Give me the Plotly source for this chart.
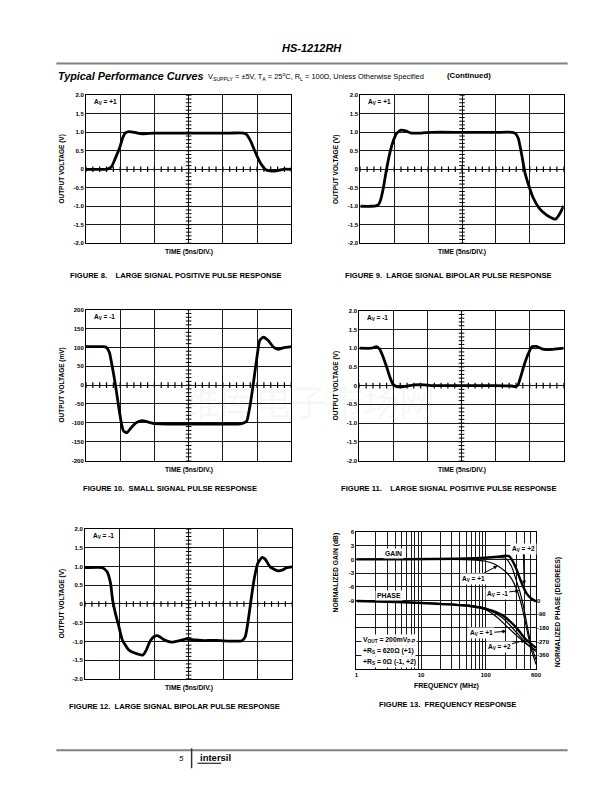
import plotly.graph_objects as go
import numpy as np

W, H = 612, 792
def X(px): return px / W
def Y(py): return 1 - py / H

# ---------------- data ----------------
volt_ticks = [2.0, 1.5, 1.0, 0.5, 0.0, -0.5, -1.0, -1.5, -2.0]
volt_labels = ["2.0", "1.5", "1.0", "0.5", "0", "-0.5", "-1.0", "-1.5", "-2.0"]
mv_ticks = [200, 150, 100, 50, 0, -50, -100, -150, -200]
mv_labels = ["200", "150", "100", "50", "0", "-50", "-100", "-150", "-200"]
time_divs = [0, 5, 10, 15, 20, 25, 30]

fig8_t = [0, 2.5, 3.0, 3.7, 4.4, 4.9, 5.4, 5.8, 6.3, 7.3, 8.2, 9.2, 11, 16, 21, 23.0, 23.4, 24.1, 24.7, 25.5, 26.2, 26.9, 27.8, 28.8, 30]
fig8_v = [0, 0, 0.0, 0.06, 0.35, 0.57, 0.87, 0.99, 1.02, 0.99, 0.96, 0.97, 0.98, 0.98, 0.98, 0.98, 0.95, 0.75, 0.48, 0.17, 0.0, -0.045, -0.04, 0.0, 0.0]

fig9_t = [0, 1.6, 2.3, 2.7, 3.0, 3.4, 3.9, 4.4, 4.9, 5.35, 6.0, 6.8, 7.5, 9.0, 10.5, 15, 20, 22.4, 22.85, 23.3, 23.8, 24.3, 24.8, 25.5, 26.5, 27.5, 28.4, 28.8, 29.4, 30]
fig9_v = [-1.0, -1.0, -0.99, -0.95, -0.82, -0.5, 0.04, 0.48, 0.79, 0.97, 1.06, 1.03, 0.98, 0.98, 1.0, 1.0, 1.0, 1.0, 0.97, 0.84, 0.4, -0.1, -0.41, -0.77, -1.08, -1.24, -1.33, -1.35, -1.21, -0.99]

fig10_t = [0, 2.5, 2.9, 3.4, 3.8, 4.3, 4.8, 5.2, 5.5, 6.0, 6.6, 7.3, 8.2, 9.1, 10.1, 12, 18, 22.6, 23.1, 23.5, 24.0, 24.5, 24.96, 25.4, 25.9, 26.6, 27.4, 28.1, 28.8, 30]
fig10_v = [102, 102, 101, 88, 53, 1, -60, -104, -122, -126, -113, -100, -94, -98, -102, -103, -103, -103, -100, -95, -52, 10, 71, 119, 127, 119, 101, 95, 99, 102]

fig11_t = [0, 1.8, 2.5, 3.0, 3.5, 4.0, 4.46, 4.94, 5.4, 6.2, 7.1, 8.1, 9.5, 10.5, 15, 20, 22.4, 22.9, 23.3, 23.7, 24.2, 24.8, 25.3, 26.0, 26.8, 27.5, 28.4, 30]
fig11_v = [1.0, 1.0, 1.04, 0.97, 0.76, 0.5, 0.24, 0.04, -0.02, -0.035, -0.01, 0.02, 0.02, 0.0, 0.0, 0.0, -0.01, -0.03, 0.02, 0.24, 0.55, 0.85, 1.03, 1.05, 0.98, 0.96, 0.97, 1.0]

fig12_t = [0, 2.5, 3.2, 3.7, 4.0, 4.4, 4.9, 5.4, 6.3, 7.2, 8.4, 8.9, 9.4, 10.0, 10.6, 11.3, 12.5, 13.7, 14.6, 15.8, 17.3, 18.2, 19.6, 22.7, 23.2, 23.7, 24.1, 24.5, 25.0, 25.6, 26.1, 26.8, 27.8, 28.5, 29.2, 30]
fig12_v = [0.97, 0.97, 0.86, 0.55, 0.1, -0.25, -0.6, -0.96, -1.22, -1.31, -1.36, -1.22, -1.0, -0.87, -0.85, -0.94, -1.02, -0.98, -0.94, -0.96, -0.98, -0.97, -0.98, -0.98, -0.87, -0.34, 0.2, 0.68, 1.08, 1.24, 1.19, 0.99, 0.89, 0.9, 0.97, 0.99]

# Figure 13: frequency response
gain_p1_f = [1, 30, 60, 100, 130, 152, 200, 250, 300, 350, 400, 450, 500, 600]
gain_p1_db = [0, 0, -0.1, -0.4, -0.9, -1.4, -2.6, -4.2, -6.5, -9.5, -13, -16.5, -19.5, -23]
gain_m1_f = [1, 50, 100, 150, 200, 250, 300, 335, 380, 430, 500, 600]
gain_m1_db = [0, 0.1, 0.3, 0.4, 0.3, -1.5, -4.8, -6.9, -10, -14, -18.5, -22]
gain_p2_f = [1, 50, 100, 150, 200, 230, 260, 300, 340, 380, 430, 500, 600]
gain_p2_db = [0, 0.2, 0.4, 0.6, 0.8, 0.7, -0.3, -2.2, -4.3, -6.0, -7.5, -8.5, -9.2]

phase_p1_f = [1, 3, 10, 30, 60, 100, 150, 200, 267, 350, 450, 600]
phase_p1_deg = [-3, -8, -15, -25, -35, -60, -110, -160, -210, -255, -295, -335]
phase_m1_f = [1, 3, 10, 30, 60, 100, 150, 200, 300, 400, 500, 600]
phase_m1_deg = [-3, -8, -15, -24, -33, -50, -90, -130, -210, -270, -305, -325]
phase_p2_f = [1, 3, 10, 30, 60, 100, 150, 200, 300, 405, 500, 600]
phase_p2_deg = [-3, -8, -16, -27, -38, -55, -80, -110, -180, -250, -285, -310]

gain_ticks = [6, 3, 0, -3, -6, -9, -12, -15, -18, -21, -24]
gain_labels = ["6", "3", "0", "-3", "-6", "-9", "", "", "", "", ""]
phase_ticks = [0, -90, -180, -270, -360]
phase_labels = ["0", "-90", "-180", "-270", "-360"]
freq_ticks = [1, 2, 3, 4, 5, 6, 7, 8, 9, 10, 20, 30, 40, 50, 60, 70, 80, 90, 100, 200, 300, 400, 500, 600]
freq_labels = ["1", "", "", "", "", "", "", "", "", "10", "", "", "", "", "", "", "", "", "100", "", "", "", "", "600"]

# ---------------- figure ----------------
FONT = "Liberation Sans, Arial, sans-serif"
fig = go.Figure()
layout = dict(width=W, height=H, margin=dict(l=0, r=0, t=0, b=0),
              paper_bgcolor="white", plot_bgcolor="white", showlegend=False)
annotations = []
shapes = []
NB = "\u00a0"

def ann(x, y, text, size=7, xanchor="center", yanchor="middle", angle=0, color="black", **kw):
    d = dict(x=X(x), y=Y(y), xref="paper", yref="paper", text=text, showarrow=False,
             xanchor=xanchor, yanchor=yanchor, textangle=angle,
             font=dict(family=FONT, size=size, color=color))
    d.update(kw)
    annotations.append(d)

panels = [
    dict(t=fig8_t, v=fig8_v, box=(77, 285, 85, 234), mv=False, gainlbl="A<sub>V</sub> = +1",
         cap="FIGURE 8." + NB * 4 + "LARGE SIGNAL POSITIVE PULSE RESPONSE", capxy=(168, 267), ylab_x=53),
    dict(t=fig9_t, v=fig9_v, box=(355, 561, 85, 234), mv=False, gainlbl="A<sub>V</sub> = +1",
         cap="FIGURE 9." + NB * 2 + "LARGE SIGNAL BIPOLAR PULSE RESPONSE", capxy=(444, 267), ylab_x=331),
    dict(t=fig10_t, v=fig10_v, box=(77, 285, 301, 453), mv=True, gainlbl="A<sub>V</sub> = -1",
         cap="FIGURE 10." + NB * 2 + "SMALL SIGNAL PULSE RESPONSE", capxy=(162, 481), ylab_x=53),
    dict(t=fig11_t, v=fig11_v, box=(354, 561, 302, 453), mv=False, gainlbl="A<sub>V</sub> = -1",
         cap="FIGURE 11." + NB * 4 + "LARGE SIGNAL POSITIVE PULSE RESPONSE", capxy=(444, 481), ylab_x=330),
    dict(t=fig12_t, v=fig12_v, box=(76, 286, 522, 673), mv=False, gainlbl="A<sub>V</sub> = -1",
         cap="FIGURE 12." + NB * 2 + "LARGE SIGNAL BIPOLAR PULSE RESPONSE", capxy=(167, 701), ylab_x=53),
]

GRID = "#1a1a1a"
tickfont = dict(family=FONT, size=6, color="black", weight="bold")

for i, p in enumerate(panels, start=1):
    sfx = "" if i == 1 else str(i)
    l, r, tp, bt = p["box"]
    yt = mv_ticks if p["mv"] else volt_ticks
    yl = mv_labels if p["mv"] else volt_labels
    yr = [-200, 200] if p["mv"] else [-2, 2]
    layout["xaxis" + sfx] = dict(domain=[X(l), X(r)], anchor="y" + sfx, range=[0, 30],
                                 tickvals=time_divs, showticklabels=False, ticks="",
                                 showgrid=True, gridcolor=GRID, gridwidth=1.2, zeroline=False,
                                 showline=True, mirror=True, linecolor="black", linewidth=1)
    layout["yaxis" + sfx] = dict(domain=[Y(bt), Y(tp)], anchor="x" + sfx, range=yr,
                                 tickvals=yt, ticktext=yl, ticks="", tickfont=tickfont,
                                 showgrid=True, gridcolor=GRID, gridwidth=1.2, zeroline=False,
                                 showline=True, mirror=True, linecolor="black", linewidth=1)
    xa, ya = "x" + sfx, "y" + sfx
    # minor tick marks along zero line and centre line (5 per division)
    tx = list(np.arange(0, 30.01, 1.0))
    fig.add_trace(go.Scatter(x=tx, y=[0] * len(tx), xaxis=xa, yaxis=ya, mode="markers",
                             marker=dict(symbol="line-ns-open", size=4, color="black",
                                         line=dict(width=1.2, color="black")),
                             hoverinfo="skip"))
    ty = list(np.arange(yr[0], yr[1] + 1e-6, (yr[1] - yr[0]) / 40))
    fig.add_trace(go.Scatter(x=[15] * len(ty), y=ty, xaxis=xa, yaxis=ya, mode="markers",
                             marker=dict(symbol="line-ew-open", size=4, color="black",
                                         line=dict(width=1, color="black")),
                             hoverinfo="skip"))
    fig.add_trace(go.Scatter(x=p["t"], y=p["v"], xaxis=xa, yaxis=ya, mode="lines",
                             line=dict(color="black", width=2.8, shape="spline", smoothing=0.5),
                             hoverinfo="skip"))
    # texts
    ann(l + 6, tp + 7, "<b>" + p["gainlbl"] + "</b>", size=6.5, xanchor="left")
    ann((l + r) / 2, bt + 9, "<b>TIME (5ns/DIV.)</b>", size=6.7)
    ann(p["ylab_x"], (tp + bt) / 2, "<b>OUTPUT VOLTAGE (" + ("mV" if p["mv"] else "V") + ")</b>", size=6.5, angle=-90)
    ann(p["capxy"][0], p["capxy"][1], "<b>" + p["cap"] + "</b>", size=7.6)

# ----- Figure 13 -----
l, r, tp, bt = 351, 533, 525, 663
layout["xaxis6"] = dict(domain=[X(l), X(r)], anchor="y6", type="log", range=[0, np.log10(600)],
                        tickvals=freq_ticks, ticktext=freq_labels, ticks="", tickfont=tickfont,
                        showgrid=True, gridcolor=GRID, gridwidth=1.3, zeroline=False,
                        showline=True, mirror=True, linecolor="black", linewidth=1)
layout["yaxis6"] = dict(domain=[Y(bt), Y(tp)], anchor="x6", range=[-24, 6],
                        tickvals=gain_ticks, ticktext=gain_labels, ticks="", tickfont=tickfont,
                        showgrid=True, gridcolor=GRID, gridwidth=1.3, zeroline=False,
                        showline=True, mirror=True, linecolor="black", linewidth=1)
layout["yaxis7"] = dict(domain=[Y(bt), Y(tp)], anchor="x6", overlaying="y6", side="right",
                        range=[-450, 450], tickvals=phase_ticks, ticktext=phase_labels, ticks="",
                        tickfont=tickfont, showgrid=False, zeroline=False, showline=False)

def fr(f, v, axis, width):
    fig.add_trace(go.Scatter(x=f, y=v, xaxis="x6", yaxis=axis, mode="lines",
                             line=dict(color="black", width=width, shape="spline", smoothing=0.6),
                             hoverinfo="skip"))

fr(gain_p1_f, gain_p1_db, "y6", 1.2)
fr(gain_m1_f, gain_m1_db, "y6", 1.2)
fr(gain_p2_f, gain_p2_db, "y6", 2.4)
fr(phase_p1_f, phase_p1_deg, "y7", 1.2)
fr(phase_m1_f, phase_m1_deg, "y7", 1.2)
fr(phase_p2_f, phase_p2_deg, "y7", 2.4)

ann(389, 547, "<b>GAIN</b>", size=6.8, bgcolor="white")
ann(384, 589, "<b>PHASE</b>", size=6.8, bgcolor="white")

def arrow(tx, ty, hx, hy, text):
    annotations.append(dict(x=X(hx), y=Y(hy), xref="paper", yref="paper", text="<b>" + text + "</b>",
                            showarrow=True, ax=tx - hx, ay=ty - hy, axref="pixel", ayref="pixel",
                            arrowhead=2, arrowsize=0.8, arrowwidth=1, arrowcolor="black",
                            bgcolor="white", font=dict(family=FONT, size=6.5, color="black")))

arrow(520, 542, 521, 578, "A<sub>V</sub> = +2")
arrow(470, 572, 494, 559, "A<sub>V</sub> = +1")
arrow(494, 587, 516, 584, "A<sub>V</sub> = -1")
arrow(478, 627, 503, 625, "A<sub>V</sub> = +1")
arrow(496, 641, 522, 634, "A<sub>V</sub> = +2")

ann(356, 634, "<b>V<sub>OUT</sub> = 200mV<sub>P-P</sub></b>", size=6.8, xanchor="left", bgcolor="white")
ann(356, 645, "<b>+R<sub>S</sub> = 620Ω (+1)</b>", size=6.8, xanchor="left", bgcolor="white")
ann(356, 656, "<b>+R<sub>S</sub> = 0Ω (-1, +2)</b>", size=6.8, xanchor="left", bgcolor="white")

ann(330, 566, "<b>NORMALIZED GAIN (dB)</b>", size=6.8, angle=-90)
ann(556, 606, "<b>NORMALIZED PHASE (DEGREES)</b>", size=6.8, angle=-90)
ann(442, 680, "<b>FREQUENCY (MHz)</b>", size=7)
ann(443, 699, "<b>FIGURE 13." + NB * 2 + "FREQUENCY RESPONSE</b>", size=7.6)

# ----- page header / footer -----
ann(306, 37, "<b><i>HS-1212RH</i></b>", size=11)
shapes.append(dict(type="line", xref="paper", yref="paper", x0=X(47), x1=X(565), y0=Y(53), y1=Y(53),
                   line=dict(color="#808080", width=2)))
ann(47, 65, "<b><i>Typical Performance Curves</i></b>", size=10.8, xanchor="left")
ann(199, 66, "V<sub>SUPPLY</sub> = ±5V, T<sub>A</sub> = 25<sup>o</sup>C, R<sub>L</sub> = 100Ω, Unless Otherwise Specified",
    size=7.4, xanchor="left")
ann(441, 65, "<b>(Continued)</b>", size=7.8, xanchor="left")

shapes.append(dict(type="line", xref="paper", yref="paper", x0=X(47), x1=X(565), y0=Y(745), y1=Y(745),
                   line=dict(color="#808080", width=2)))
shapes.append(dict(type="line", xref="paper", yref="paper", x0=X(184), x1=X(184), y0=Y(743), y1=Y(763),
                   line=dict(color="#333333", width=1.5)))
ann(178, 753, "<i>5</i>", size=8, xanchor="right")
ann(190, 752, "<b>intersil</b>", size=9.5, xanchor="left")
shapes.append(dict(type="line", xref="paper", yref="paper", x0=X(190), x1=X(214), y0=Y(758), y1=Y(758),
                   line=dict(color="black", width=1)))

# watermark
annotations.append(dict(x=X(303), y=Y(392), xref="paper", yref="paper", text="维库电子市场网",
                        showarrow=False, xanchor="center", yanchor="middle",
                        font=dict(family="Noto Sans CJK SC", size=36, color="rgba(0,0,0,0.05)")))

layout["annotations"] = annotations
layout["shapes"] = shapes
fig.update_layout(**layout)
fig.write_html("out.html")
